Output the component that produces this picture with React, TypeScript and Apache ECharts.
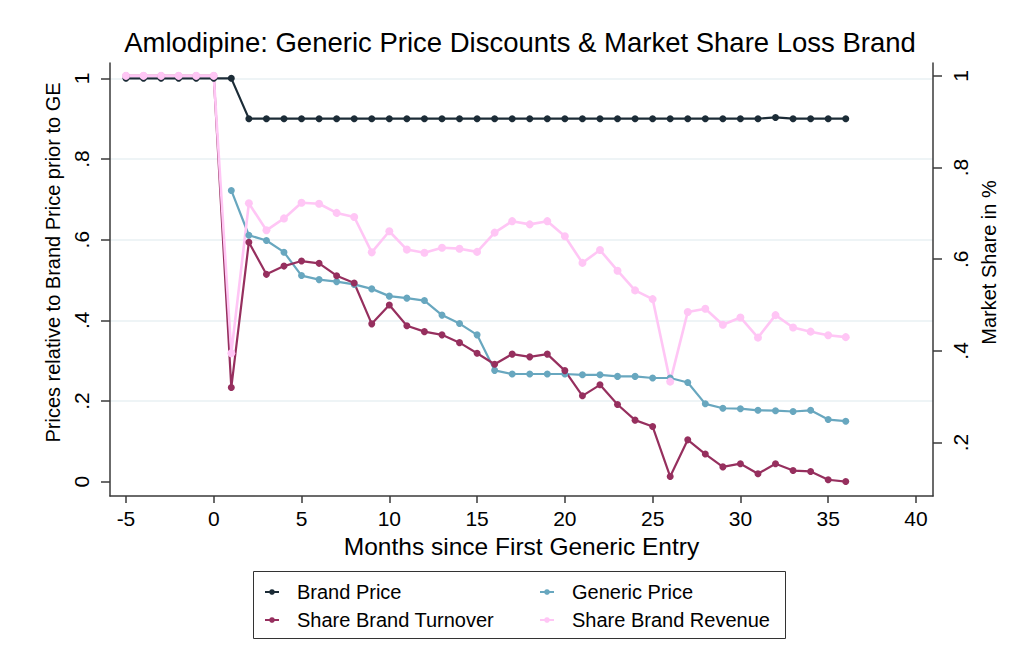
import React, { useEffect, useRef } from 'react';
import * as echarts from 'echarts';

const months = [-5, -4, -3, -2, -1, 0, 1, 2, 3, 4, 5, 6, 7, 8, 9, 10, 11, 12, 13, 14, 15, 16, 17, 18, 19, 20, 21, 22, 23, 24, 25, 26, 27, 28, 29, 30, 31, 32, 33, 34, 35, 36];

const brandPrice = [1, 1, 1, 1, 1, 1, 1, 0.9, 0.9, 0.9, 0.9, 0.9, 0.9, 0.9, 0.9, 0.9, 0.9, 0.9, 0.9, 0.9, 0.9, 0.9, 0.9, 0.9, 0.9, 0.9, 0.9, 0.9, 0.9, 0.9, 0.9, 0.9, 0.9, 0.9, 0.9, 0.9, 0.9, 0.903, 0.9, 0.9, 0.9, 0.9];

const genericPrice = [null, null, null, null, null, null, 0.722, 0.611, 0.598, 0.569, 0.511, 0.501, 0.496, 0.489, 0.478, 0.46, 0.455, 0.449, 0.413, 0.392, 0.364, 0.276, 0.267, 0.267, 0.267, 0.267, 0.265, 0.265, 0.261, 0.261, 0.257, 0.257, 0.246, 0.193, 0.182, 0.181, 0.177, 0.176, 0.174, 0.177, 0.154, 0.15];

const shareTurnover = [1, 1, 1, 1, 1, 1, 0.32, 0.637, 0.567, 0.585, 0.596, 0.591, 0.564, 0.548, 0.459, 0.5, 0.455, 0.442, 0.435, 0.418, 0.395, 0.371, 0.393, 0.387, 0.393, 0.357, 0.302, 0.326, 0.283, 0.249, 0.235, 0.126, 0.206, 0.175, 0.147, 0.154, 0.132, 0.154, 0.139, 0.137, 0.119, 0.115];

const shareRevenue = [1, 1, 1, 1, 1, 1, 0.395, 0.722, 0.663, 0.689, 0.723, 0.721, 0.701, 0.692, 0.615, 0.661, 0.621, 0.614, 0.625, 0.623, 0.616, 0.658, 0.683, 0.676, 0.683, 0.65, 0.592, 0.62, 0.575, 0.532, 0.513, 0.333, 0.485, 0.492, 0.457, 0.473, 0.429, 0.478, 0.451, 0.442, 0.434, 0.43];

const xTicks = [-5, 0, 5, 10, 15, 20, 25, 30, 35, 40];
const leftTicks = [0, 0.2, 0.4, 0.6, 0.8, 1];
const rightTicks = [0.2, 0.4, 0.6, 0.8, 1];
const gridTicks = [0.2, 0.4, 0.6, 0.8, 1];

const FONT = '"Liberation Sans", Arial, Helvetica, sans-serif';
const AXIS_COLOR = '#3a3a3a';

const fmt = (v: number) => {
  const r = Math.round(v * 10) / 10;
  return String(r).replace(/^0\./, '.');
};

export default function App() {
  const ref = useRef<HTMLDivElement>(null);

  useEffect(() => {
    if (!ref.current) return;
    const chart = echarts.init(ref.current, undefined, { renderer: 'svg' });

    const pair = (arr: (number | null)[]) => months.map((m, i) => [m, arr[i]]);

    const mkSeries = (
      name: string,
      arr: (number | null)[],
      color: string,
      yAxisIndex: number,
      width = 2.2,
      size = 7
    ) => ({
      name,
      type: 'line',
      yAxisIndex,
      data: pair(arr),
      symbol: 'circle',
      symbolSize: size,
      showSymbol: true,
      connectNulls: false,
      lineStyle: { color, width },
      itemStyle: { color },
      emphasis: { disabled: true },
    });

    const legendText = { fontFamily: FONT, fontSize: 20, color: '#000', lineHeight: 20, padding: [0, 0, 0, 13] };

    chart.setOption({
      animation: false,
      backgroundColor: '#ffffff',
      title: {
        text: 'Amlodipine: Generic Price Discounts & Market Share Loss Brand',
        left: 520,
        top: 28,
        padding: 0,
        textAlign: 'center',
        textStyle: { fontFamily: FONT, fontSize: 27.5, fontWeight: 'normal', color: '#000' },
      },
      legend: [
        {
          orient: 'vertical',
          left: 264,
          top: 582,
          padding: 0,
          itemWidth: 14,
          itemHeight: 7,
          itemGap: 8,
          data: ['Brand Price', 'Share Brand Turnover'],
          textStyle: legendText,
        },
        {
          orient: 'vertical',
          left: 539,
          top: 582,
          padding: 0,
          itemWidth: 14,
          itemHeight: 7,
          itemGap: 8,
          data: ['Generic Price', 'Share Brand Revenue'],
          textStyle: legendText,
        },
      ],
      graphic: [
        {
          type: 'rect',
          shape: { x: 253.5, y: 571.5, width: 532, height: 67 },
          style: { fill: 'none', stroke: '#333', lineWidth: 1 },
          silent: true,
        },
      ],
      grid: { left: 110, right: 82, top: 63, bottom: 174, containLabel: false },
      xAxis: {
        type: 'value',
        min: -5.91,
        max: 40.97,
        name: 'Months since First Generic Entry',
        nameLocation: 'middle',
        nameGap: 37,
        nameTextStyle: { fontFamily: FONT, fontSize: 24.5, color: '#000' },
        axisLine: { show: true, onZero: false, lineStyle: { color: AXIS_COLOR, width: 1.5 } },
        axisTick: { show: true, length: 7, customValues: xTicks, lineStyle: { color: AXIS_COLOR, width: 1.5 } },
        axisLabel: { customValues: xTicks, margin: 12, fontFamily: FONT, fontSize: 21, color: '#000' },
        splitLine: { show: false },
      },
      yAxis: [
        {
          type: 'value',
          position: 'left',
          min: -0.0355,
          max: 1.038,
          name: 'Prices relative to Brand Price prior to GE',
          nameLocation: 'middle',
          nameRotate: 90,
          nameGap: 47,
          nameTextStyle: { fontFamily: FONT, fontSize: 20, color: '#000', padding: [0, 0, 0, 34] },
          axisLine: { show: true, onZero: false, lineStyle: { color: AXIS_COLOR, width: 1.5 } },
          axisTick: { show: true, length: 9, customValues: leftTicks, lineStyle: { color: AXIS_COLOR, width: 1.5 } },
          axisLabel: { customValues: leftTicks, rotate: 90, margin: 18, fontFamily: FONT, fontSize: 21, color: '#000', formatter: fmt },
          splitLine: { show: false },
        },
        {
          type: 'value',
          position: 'right',
          min: 0.0835,
          max: 1.028,
          name: 'Market Share in %',
          nameLocation: 'middle',
          nameRotate: 90,
          nameGap: 45,
          nameTextStyle: { fontFamily: FONT, fontSize: 20, color: '#000', padding: [0, 0, 0, 34] },
          axisLine: { show: true, onZero: false, lineStyle: { color: AXIS_COLOR, width: 1.5 } },
          axisTick: { show: true, length: 9, customValues: rightTicks, lineStyle: { color: AXIS_COLOR, width: 1.5 } },
          axisLabel: { customValues: rightTicks, rotate: 90, margin: 17, fontFamily: FONT, fontSize: 21, color: '#000', formatter: fmt },
          splitLine: { show: false },
        },
        {
          type: 'value',
          position: 'left',
          min: -0.0355,
          max: 1.038,
          axisLine: { show: false },
          axisTick: { show: false, customValues: gridTicks },
          axisLabel: { show: false, customValues: gridTicks },
          splitLine: { show: true, lineStyle: { color: '#e9f0f3', width: 1.5 } },
        },
      ],
      series: [
        mkSeries('Brand Price', brandPrice, '#1c2c37', 0),
        mkSeries('Generic Price', genericPrice, '#68a7bf', 0),
        mkSeries('Share Brand Turnover', shareTurnover, '#962f5e', 1),
        mkSeries('Share Brand Revenue', shareRevenue, '#ffc6f5', 1, 2.6, 8),
      ],
    });

    return () => chart.dispose();
  }, []);

  return (
    <div
      ref={ref}
      style={{ position: 'fixed', left: 0, top: 0, width: 1015, height: 670, background: '#fff' }}
    />
  );
}
